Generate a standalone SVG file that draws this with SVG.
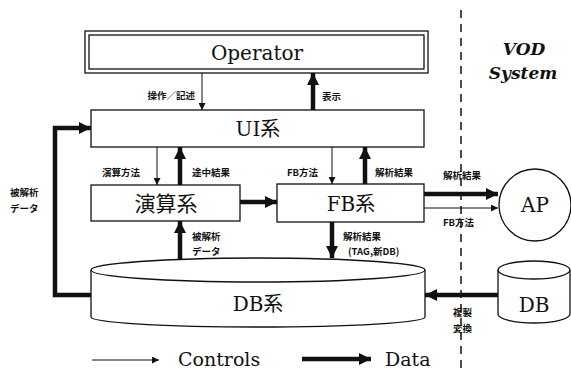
<svg xmlns="http://www.w3.org/2000/svg" width="571" height="371" viewBox="0 0 571 371">
<style>
.box{fill:#fff;stroke:#111;stroke-width:1.3}
.big{font-family:"DejaVu Serif","Liberation Serif","Noto Sans CJK JP",serif;fill:#111}
.lbl{font-family:"Noto Sans CJK JP","Liberation Sans",sans-serif;font-size:9.5px;font-weight:bold;fill:#111}
.thin{stroke:#111;stroke-width:1;fill:none}
.thick{stroke:#111;stroke-width:4.5;fill:none}
</style>
<defs>
<marker id="mThin" viewBox="0 0 10 10" refX="10" refY="5" markerWidth="8" markerHeight="7" markerUnits="userSpaceOnUse" orient="auto"><path d="M0,0 L10,5 L0,10 z" fill="#111"/></marker>
<marker id="mThick" viewBox="0 0 10 10" refX="10" refY="5" markerWidth="14" markerHeight="12" markerUnits="userSpaceOnUse" orient="auto"><path d="M0,0 L10,5 L0,10 z" fill="#111"/></marker>
</defs>
<rect width="571" height="371" fill="#fff"/>

<g id="operator">
<rect x="85" y="31" width="343" height="42" class="box"/>
<rect x="89" y="35" width="335" height="34" class="box"/>
<text x="257" y="60" class="big" font-size="20" text-anchor="middle">Operator</text>
</g>
<g id="ui">
<rect x="91" y="110" width="333" height="37" class="box"/>
<text x="258" y="136" class="big" font-size="20" text-anchor="middle">UI系</text>
</g>
<g id="calc">
<rect x="91" y="185" width="149" height="36" class="box"/>
<text x="166" y="211" class="big" font-size="21" text-anchor="middle">演算系</text>
</g>
<g id="fb">
<rect x="277" y="184" width="147" height="38" class="box"/>
<text x="351" y="211" class="big" font-size="20" text-anchor="middle">FB系</text>
</g>
<g id="dbsys">
<path d="M91,270 L91,317 A167,10 0 0 0 425,317 L425,270" class="box"/>
<ellipse cx="258" cy="270" rx="167" ry="12" class="box"/>
<text x="258" y="311" class="big" font-size="20" text-anchor="middle">DB系</text>
</g>
<g id="ap">
<circle cx="535" cy="205" r="36" class="box"/>
<text x="535" y="212" class="big" font-size="20" text-anchor="middle">AP</text>
</g>
<g id="db">
<path d="M498,270 L498,314 A36,9 0 0 0 570,314 L570,270" class="box"/>
<ellipse cx="534" cy="270" rx="36" ry="9" class="box"/>
<text x="534" y="312" class="big" font-size="20" text-anchor="middle">DB</text>
</g>
<g id="vod">
<text x="524" y="55" class="big" font-size="17" font-style="italic" font-weight="bold" text-anchor="middle">VOD</text>
<text x="523" y="79" class="big" font-size="17" font-style="italic" font-weight="bold" text-anchor="middle">System</text>
</g>

<g id="connectors">
<line x1="461" y1="10" x2="461" y2="371" stroke="#111" stroke-width="1.5" stroke-dasharray="8,6"/>
<line x1="202" y1="73" x2="202" y2="110" class="thin" marker-end="url(#mThin)"/>
<line x1="313" y1="110" x2="313" y2="73" class="thick" marker-end="url(#mThick)"/>
<line x1="157" y1="147" x2="157" y2="185" class="thin" marker-end="url(#mThin)"/>
<line x1="180" y1="185" x2="180" y2="147" class="thick" marker-end="url(#mThick)"/>
<line x1="332" y1="147" x2="332" y2="184" class="thin" marker-end="url(#mThin)"/>
<line x1="365" y1="184" x2="365" y2="147" class="thick" marker-end="url(#mThick)"/>
<line x1="240" y1="202" x2="277" y2="202" class="thick" marker-end="url(#mThick)"/>
<line x1="424" y1="194" x2="498" y2="194" class="thick" marker-end="url(#mThick)"/>
<line x1="424" y1="208" x2="498" y2="208" class="thin" marker-end="url(#mThin)"/>
<line x1="332" y1="222" x2="332" y2="258" class="thick" marker-end="url(#mThick)"/>
<line x1="180" y1="260" x2="180" y2="221" class="thick" marker-end="url(#mThick)"/>
<line x1="498" y1="295" x2="425" y2="295" class="thick" marker-end="url(#mThick)"/>
<polyline points="91,295 55,295 55,128 91,128" class="thick" marker-end="url(#mThick)"/>
<line x1="92" y1="360" x2="159" y2="360" class="thin" marker-end="url(#mThin)"/>
<line x1="302" y1="359" x2="371" y2="359" class="thick" marker-end="url(#mThick)"/>
</g>

<g id="labels">
<text x="195" y="99" class="lbl" text-anchor="end">操作／記述</text>
<text x="322" y="100" class="lbl">表示</text>
<text x="102" y="176" class="lbl">演算方法</text>
<text x="192" y="176" class="lbl">途中結果</text>
<text x="287" y="176" class="lbl">FB方法</text>
<text x="375" y="176" class="lbl">解析結果</text>
<text x="443" y="179" class="lbl">解析結果</text>
<text x="443" y="226" class="lbl">FB方法</text>
<text x="343" y="240" class="lbl">解析結果</text>
<text x="348" y="255" class="lbl">(TAG,新DB)</text>
<text x="192" y="240" class="lbl">被解析</text>
<text x="192" y="255" class="lbl">データ</text>
<text x="10" y="196" class="lbl">被解析</text>
<text x="10" y="212" class="lbl">データ</text>
<text x="453" y="316" class="lbl">複製</text>
<text x="453" y="332" class="lbl">変換</text>
<text x="178" y="366" class="big" font-size="19">Controls</text>
<text x="385" y="366" class="big" font-size="19">Data</text>
</g>
</svg>
